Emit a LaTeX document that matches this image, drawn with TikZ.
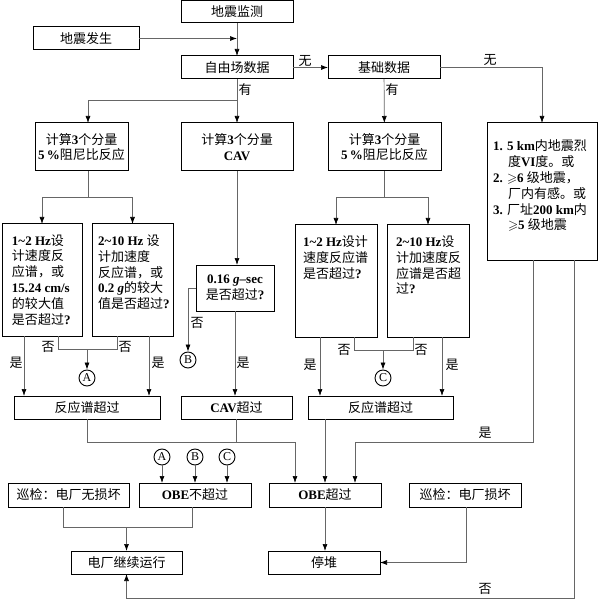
\documentclass[tikz,border=0pt]{standalone}
\usepackage{amssymb}
\usepackage{fontspec}
\setmainfont{Liberation Serif}
\newfontfamily\cjk{Noto Sans CJK SC}
\usetikzlibrary{arrows.meta}
\newcommand\zh[1]{{\cjk\mdseries #1}}
\newcommand\tld{\textasciitilde}
\newcommand\bx[6]{\node[box, minimum width={#4-#2}, minimum height={#5-#3}] (#1) at ({(#2+#4)/2},{(#3+#5)/2}) {#6};}
\tikzset{
 box/.style={draw=black, line width=1pt, inner sep=0pt, outer sep=0pt, fill=white,
   font=\fontsize{13}{15.8}\selectfont\bfseries, align=center},
 conn/.style={draw=black!60, line width=0.7pt},
 arr/.style={conn, -{Latex[length=7pt,width=5pt,color=black]}},
 lab/.style={font=\fontsize{13}{15}\selectfont, inner sep=0pt},
 circ/.style={circle, draw=black, line width=0.9pt, minimum size=16pt, inner sep=0pt,
   font=\fontsize{12}{12}\selectfont},
}
\begin{document}
\begin{tikzpicture}[x=1pt,y=-1pt]
\fill[white] (0,0) rectangle (599,601);
\useasboundingbox (0,0) rectangle (599,601);
% boxes
\bx{mon}{181}{1}{293}{23}{\zh{地震监测}}
\bx{occ}{33}{27}{139}{50}{\zh{地震发生}}
\bx{free}{181}{56}{293}{79}{\zh{自由场数据}}
\bx{base}{328}{56}{440}{79}{\zh{基础数据}}
\bx{c1}{35}{123}{128}{171}{\zh{计算}3\zh{个分量}\\5\,\%\zh{阻尼比反应}}
\bx{cav}{181}{123}{293}{171}{\zh{计算}3\zh{个分量}\\CAV}
\bx{c2}{328}{123}{441}{171}{\zh{计算}3\zh{个分量}\\5\,\%\zh{阻尼比反应}}
\bx{big}{487}{123}{597}{260}{\parbox[c][137pt][t]{98pt}{\raggedright\rule{0pt}{28pt}1. 5 km\zh{内地震烈}\\\hspace*{15pt}\zh{度}VI\zh{度。或}\\2. $\geqslant$6 \zh{级地震，}\\\hspace*{15pt}\zh{厂内有感。或}\\3. \zh{厂址}200 km\zh{内}\\\hspace*{15pt}$\geqslant$5 \zh{级地震}}}
\bx{L1}{2}{224}{82}{336}{\parbox[c][112pt][t]{60pt}{\raggedright\rule{0pt}{21pt}1\tld2 Hz\zh{设}\\\zh{计速度反}\\\zh{应谱，或}\\15.24 cm/s\\\zh{的较大值}\\\zh{是否超过}?}}
\bx{L2}{92}{224}{173}{336}{\parbox[c][112pt][t]{69pt}{\raggedright\rule{0pt}{21.5pt}2\tld10 Hz \zh{设}\\\zh{计加速度}\\\zh{反应谱，或}\\0.2 \textit{g}\zh{的较大}\\\zh{值是否超过}?}}
\bx{g016}{196}{265}{274}{311}{0.16 \textit{g}--sec\\\zh{是否超过}?}
\bx{R1}{295}{225}{377}{337}{\parbox[c][112pt][t]{66pt}{\raggedright\rule{0pt}{21.5pt}1\tld2 Hz\zh{设计}\\\zh{速度反应谱}\\\zh{是否超过}?}}
\bx{R2}{387}{225}{469}{337}{\parbox[c][112pt][t]{64pt}{\raggedright\rule{0pt}{21.5pt}2\tld10 Hz\zh{设}\\\zh{计加速度反}\\\zh{应谱是否超}\\\zh{过}?}}
\bx{rsL}{14}{396}{160}{419}{\zh{反应谱超过}}
\bx{cavx}{181}{396}{292}{419}{CAV\zh{超过}}
\bx{rsR}{308}{396}{453}{419}{\zh{反应谱超过}}
\bx{insp0}{8}{483}{129}{507}{\zh{巡检：电厂无损坏}}
\bx{obeN}{139}{483}{251}{507}{OBE\zh{不超过}}
\bx{obeY}{269}{483}{381}{507}{OBE\zh{超过}}
\bx{insp1}{409}{483}{521}{507}{\zh{巡检：电厂损坏}}
\bx{cont}{71}{551}{182}{574}{\zh{电厂继续运行}}
\bx{stop}{268}{551}{380}{574}{\zh{停堆}}
% circles
\node[circ] (A1) at (87,378) {A};
\node[circ] (B1) at (188,360) {B};
\node[circ] (C1) at (383,378) {C};
\node[circ] (A2) at (162,457) {A};
\node[circ] (B2) at (195,457) {B};
\node[circ] (C2) at (227,457) {C};
% helper coordinates
\coordinate (j1) at (237,100);
\coordinate (j1l) at (88,100);
\coordinate (j2) at (88,197);
\coordinate (xa) at (24,0);
\coordinate (xb) at (58,0);
\coordinate (xc) at (87,0);
\coordinate (xd) at (117,0);
\coordinate (xe) at (149,0);
\coordinate (ya) at (0,349);
\coordinate (xf) at (320,0);
\coordinate (xg) at (354,0);
\coordinate (xh) at (383,0);
\coordinate (xi) at (413,0);
\coordinate (xj) at (442,0);
\coordinate (yb) at (0,350);
\coordinate (yc) at (0,442);
\coordinate (xl) at (295,0);
\coordinate (xm) at (533,0);
\coordinate (xn) at (355,0);
\coordinate (xo) at (574,0);
\coordinate (yd) at (0,598);
\coordinate (ye) at (0,527);
\coordinate (xp) at (192,0);
\coordinate (xq) at (63,0);
\coordinate (xr) at (466,0);
\coordinate (occj) at (occ.east -| mon.south);
% connectors
\draw[arr] (mon) -- (free);
\draw[arr] (occ.east) -- (occj);
\draw[arr] (free) -- (base);
\draw[arr] (base.east) -| (big.north);
\draw[arr] (free) -- (cav);
\draw[arr] (j1) -- (j1l) -- (c1.north -| j1l);
\draw[arr] (base) -- (c2);
\draw[conn] (c1.south -| j1l) -- (j2);
\draw[arr] (j2) -| (L1.north);
\draw[arr] (j2) -| (L2.north);
\draw[conn] (c2.south) -- (c2.south |- j2);
\draw[arr] (c2.south |- j2) -| (R1.north);
\draw[arr] (c2.south |- j2) -| (R2.north);
\draw[arr] (cav.south) -- (cav.south |- g016.north);
\draw[arr] (g016.west) -| (B1.north);
\draw[arr] (g016.south) -- (g016.south |- cavx.north);
\draw[arr] (L1.south -| xa) -- (rsL.north -| xa);
\draw[conn] (L1.south -| xb) -- (xb |- ya) -- (xd |- ya) -- (L2.south -| xd);
\draw[arr] (xc |- ya) -- (A1.north);
\draw[arr] (L2.south -| xe) -- (rsL.north -| xe);
\draw[arr] (R1.south -| xf) -- (rsR.north -| xf);
\draw[conn] (R1.south -| xg) -- (xg |- yb) -- (xi |- yb) -- (R2.south -| xi);
\draw[arr] (xh |- yb) -- (C1.north);
\draw[arr] (R2.south -| xj) -- (rsR.north -| xj);
\draw[arr] (rsL.south) |- (xl |- yc) -- (obeY.north -| xl);
\draw[conn] (cavx.south) -- (cavx.south |- yc);
\draw[arr] (rsR.south -| obeY.north) -- (obeY.north);
\draw[arr] (big.south -| xm) |- (xn |- yc) -- (obeY.north -| xn);
\draw[arr] (big.south -| xo) -- (xo |- yd) -| (cont.south);
\draw[arr] (A2.south) -- (A2.south |- obeN.north);
\draw[arr] (B2.south) -- (B2.south |- obeN.north);
\draw[arr] (C2.south) -- (C2.south |- obeN.north);
\draw[conn] (insp0.south -| xq) -- (xq |- ye) -- (xp |- ye) -- (obeN.south -| xp);
\draw[arr] (cont.north |- ye) -- (cont.north);
\draw[arr] (obeY.south) -- (obeY.south |- stop.north);
\draw[arr] (insp1.south -| xr) |- (stop.east);
% labels
\node[lab] (n1) at (305,61) {\zh{无}};
\node[lab] (n2) at (490,60) {\zh{无}};
\node[lab] (n3) at (245,90) {\zh{有}};
\node[lab] (n4) at (392,90) {\zh{有}};
\node[lab] (n5) at (197,323) {\zh{否}};
\node[lab] (n6) at (16,363) {\zh{是}};
\node[lab] (n7) at (48,347) {\zh{否}};
\node[lab] (n8) at (125,347) {\zh{否}};
\node[lab] (n9) at (158,363) {\zh{是}};
\node[lab] (n10) at (243,363) {\zh{是}};
\node[lab] (n11) at (310,365) {\zh{是}};
\node[lab] (n12) at (344,350) {\zh{否}};
\node[lab] (n13) at (421,350) {\zh{否}};
\node[lab] (n14) at (452,365) {\zh{是}};
\node[lab] (n15) at (485,433) {\zh{是}};
\node[lab] (n16) at (485,589) {\zh{否}};
\end{tikzpicture}
\end{document}
